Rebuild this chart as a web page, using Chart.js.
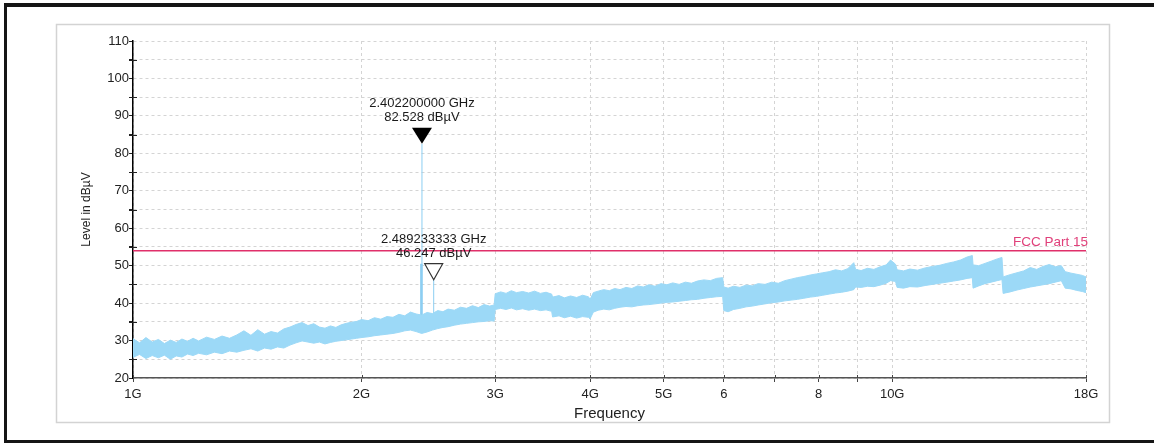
<!DOCTYPE html>
<html>
<head>
<meta charset="utf-8">
<script src="https://cdn.jsdelivr.net/npm/chart.js@4.4.0/dist/chart.umd.min.js"></script>
<style>
html,body{margin:0;padding:0;background:#fff;overflow:hidden;}
#wrap{width:1154px;height:443px;position:relative;}
</style>
</head>
<body>
<div id="wrap"><canvas id="c" width="1154" height="443"></canvas></div>
<script>
// ---- data (frequency in GHz, level in dBµV) ----
const bandFreqGHz = [
  1.00,1.02,1.04,1.06,1.08,1.10,1.12,1.14,1.16,1.18,1.20,1.22,1.25,1.28,1.31,1.34,1.37,1.40,1.43,1.46,1.49,1.52,1.55,1.58,1.61,1.64,1.67,1.70,1.73,1.76,1.79,1.82,1.85,1.88,1.91,1.94,1.97,
  2.00,2.04,2.08,2.12,2.16,2.20,2.24,2.28,2.32,2.36,2.40,2.44,2.48,2.52,2.56,2.60,2.65,2.70,2.75,2.80,2.85,2.90,2.95,2.99,
  3.00,3.05,3.10,3.15,3.20,3.26,3.32,3.38,3.44,3.50,3.56,3.57,3.64,3.70,3.77,3.84,3.91,3.98,4.00,
  4.04,4.10,4.17,4.24,4.31,4.38,4.46,4.54,4.62,4.70,4.78,4.87,4.96,5.05,5.14,5.24,5.34,5.44,5.54,5.65,5.76,5.87,5.98,
  6.00,6.08,6.18,6.30,6.42,6.54,6.66,6.80,6.94,7.08,7.22,7.36,7.50,7.65,7.80,7.95,8.10,8.26,8.42,8.58,8.74,8.90,
  8.95,9.10,9.28,9.46,9.64,9.82,9.95,10.10,
  10.15,10.35,10.55,10.80,11.05,11.30,11.55,11.80,12.05,12.30,12.55,12.75,
  12.78,13.00,13.25,13.50,13.75,13.95,
  14.00,14.30,14.60,14.90,15.20,15.50,15.80,16.10,16.40,16.70,
  16.90,17.20,17.50,17.80,18.00
];
const bandUpper = [
  30.5,29.4,30.8,29.6,30.3,29.2,30.1,29.5,30.4,29.8,30.6,29.9,30.9,30.3,31.2,30.6,31.5,32.6,31.4,32.9,31.7,32.4,32.0,33.1,33.6,34.3,34.8,34.0,34.5,33.6,33.3,33.9,33.5,34.2,34.6,34.9,35.1,
  35.6,35.3,36.1,35.7,36.4,36.2,37.0,36.6,37.6,37.1,36.8,37.5,37.2,38.0,37.7,38.4,38.1,38.9,38.6,39.3,38.8,39.6,39.2,39.5,
  42.5,43.0,42.6,43.3,42.8,43.1,42.7,43.2,42.6,42.9,42.4,41.6,42.0,41.4,41.9,41.5,42.1,41.7,41.0,
  42.8,43.2,43.6,43.3,43.9,43.6,44.2,43.9,44.6,44.3,44.9,44.5,45.2,44.9,45.4,45.0,45.6,45.3,45.9,46.2,46.0,46.6,46.8,
  44.3,44.0,44.5,44.2,44.8,44.6,45.2,45.0,45.6,45.3,46.0,46.4,46.8,47.1,47.5,47.8,48.1,48.4,48.9,48.6,49.2,50.8,
  49.0,48.7,49.3,49.0,49.7,50.2,51.5,50.4,
  48.9,48.6,49.1,48.8,49.4,49.8,50.1,50.6,51.0,51.5,52.3,52.7,
  50.2,50.0,50.6,51.2,51.8,52.2,
  47.0,47.6,48.1,48.6,49.5,49.0,49.8,50.3,49.7,50.0,
  48.4,48.0,47.7,47.4,47.0
];
const bandLower = [
  25.5,26.3,25.2,26.0,25.4,26.1,25.0,25.9,25.6,26.4,26.0,26.6,26.2,26.9,26.5,27.2,26.9,27.4,27.8,27.2,28.0,27.7,28.3,28.0,28.8,29.4,29.9,29.6,29.3,29.6,29.1,29.5,29.8,30.0,30.2,30.4,30.6,
  30.8,31.0,31.3,31.5,31.7,31.9,32.2,32.6,32.8,32.4,31.9,32.3,32.8,33.2,33.5,33.7,34.1,34.4,34.6,34.8,35.0,35.1,35.3,35.2,
  38.3,38.6,38.3,38.7,38.2,38.5,38.1,38.4,38.0,38.2,37.8,36.3,36.6,36.1,36.5,36.0,36.4,36.2,35.8,
  37.6,38.1,38.4,38.2,38.6,38.9,39.1,39.0,39.3,39.5,39.6,39.8,40.0,40.2,40.3,40.5,40.7,40.9,41.0,41.3,41.5,41.7,41.8,
  38.0,37.7,38.3,38.6,39.0,39.2,39.5,39.8,40.1,40.3,40.6,40.8,41.0,41.3,41.6,41.8,42.1,42.4,42.7,42.9,43.2,43.6,
  44.3,44.2,44.5,44.4,44.8,45.3,46.0,45.8,
  44.2,44.0,44.4,44.3,44.7,45.0,45.3,45.6,45.9,46.2,46.6,46.8,
  44.0,44.6,45.2,45.6,46.0,46.3,
  42.6,43.0,43.5,43.9,44.3,44.6,44.9,45.2,45.6,46.0,
  44.0,43.8,43.4,43.1,42.8
];
const spikeFreqGHz = [2.398, 2.4022, 2.489233333];
const spikeBase    = [33.0, 33.5, 35.5];
const spikeTop     = [50.5, 82.528, 46.247];

const markerFreqGHz   = [2.4022, 2.489233333];
const markerLevel     = [82.528, 46.247];
const markerFreqText  = ['2.402200000 GHz', '2.489233333 GHz'];
const markerLevelText = ['82.528 dBµV', '46.247 dBµV'];
const markerFilled    = [true, false];

const limitName  = 'FCC Part 15';
const limitFreqGHz = [1, 18];
const limitLevel = 54;

const xTickValues = [1, 2, 3, 4, 5, 6, 7, 8, 9, 10, 18];
const xTickLabels = ['1G', '2G', '3G', '4G', '5G', '6', '', '8', '', '10G', '18G'];
const yMin = 20, yMax = 110, yStep = 5;

// ---- styles ----
const FONT = "'Liberation Sans', Arial, sans-serif";
const BAND = 'rgb(156,217,247)';
const SPIKE = 'rgb(140,206,242)';
const LIMIT = '#e0306a';
const spikeWidths = [2.5, 1, 1];

const datasets = [
  { label: 'low', data: bandFreqGHz.map((f, i) => ({ x: f, y: bandLower[i] })),
    borderColor: BAND, borderWidth: 1, pointRadius: 0, fill: false, tension: 0 },
  { label: 'high', data: bandFreqGHz.map((f, i) => ({ x: f, y: bandUpper[i] })),
    borderColor: BAND, backgroundColor: BAND, borderWidth: 1, pointRadius: 0, fill: '-1', tension: 0 }
];
spikeFreqGHz.forEach((f, i) => {
  datasets.push({ label: 'spike' + i, data: [{ x: f, y: spikeBase[i] }, { x: f, y: spikeTop[i] }],
    borderColor: SPIKE, borderWidth: spikeWidths[i], pointRadius: 0, fill: false });
});
datasets.push({ label: limitName, data: limitFreqGHz.map(f => ({ x: f, y: limitLevel })),
  borderColor: LIMIT, borderWidth: 1.6, pointRadius: 0, fill: false });

const decor = {
  id: 'decor',
  beforeDraw(chart) {
    const ctx = chart.ctx;
    ctx.save();
    ctx.fillStyle = '#fff';
    ctx.fillRect(0, 0, chart.width, chart.height);
    ctx.fillStyle = '#151515';
    ctx.fillRect(4, 3, 1150, 4);
    ctx.fillRect(4, 3, 3, 440);
    ctx.fillRect(4, 440, 1150, 3);
    ctx.strokeStyle = '#d3d3d3';
    ctx.lineWidth = 1.5;
    ctx.strokeRect(56.5, 24.5, 1053, 398);
    ctx.restore();
  },
  afterDatasetsDraw(chart) {
    const { ctx, scales: { x, y } } = chart;
    ctx.save();
    ctx.strokeStyle = '#222';
    ctx.lineWidth = 1;
    for (let v = yMin + yStep; v < yMax; v += 2 * yStep) {
      const py = Math.round(y.getPixelForValue(v)) + 0.5;
      ctx.beginPath(); ctx.moveTo(x.left - 4, py); ctx.lineTo(x.left + 4, py); ctx.stroke();
    }
    ctx.strokeStyle = '#444';
    xTickValues.forEach(v => {
      const px = Math.round(x.getPixelForValue(v)) + 0.5;
      ctx.beginPath(); ctx.moveTo(px, y.bottom - 3); ctx.lineTo(px, y.bottom); ctx.stroke();
    });
    ctx.fillStyle = '#e0407a';
    ctx.font = '13.5px ' + FONT;
    ctx.textAlign = 'right';
    ctx.textBaseline = 'middle';
    ctx.fillText(limitName, x.right + 2, y.getPixelForValue(limitLevel) - 8);
    markerFreqGHz.forEach((f, i) => {
      const px = x.getPixelForValue(f), py = y.getPixelForValue(markerLevel[i]);
      const hw = markerFilled[i] ? 10 : 9;
      ctx.beginPath();
      ctx.moveTo(px, py);
      ctx.lineTo(px - hw, py - 16);
      ctx.lineTo(px + hw, py - 16);
      ctx.closePath();
      if (markerFilled[i]) { ctx.fillStyle = '#000'; ctx.fill(); }
      else { ctx.fillStyle = '#fff'; ctx.fill(); ctx.strokeStyle = '#333'; ctx.lineWidth = 1.2; ctx.stroke(); }
      ctx.fillStyle = '#1a1a1a';
      ctx.font = '13px ' + FONT;
      ctx.textAlign = 'center';
      ctx.textBaseline = 'middle';
      ctx.fillText(markerFreqText[i], px, py - 40);
      ctx.fillText(markerLevelText[i], px, py - 26);
    });
    ctx.restore();
  }
};

new Chart(document.getElementById('c'), {
  type: 'line',
  data: { datasets },
  plugins: [decor],
  options: {
    responsive: false,
    animation: false,
    events: [],
    layout: { padding: { left: 0, right: 68, top: 41, bottom: 0 } },
    plugins: { legend: { display: false }, tooltip: { enabled: false } },
    elements: { line: { tension: 0 } },
    scales: {
      x: {
        type: 'logarithmic', min: 1, max: 18, position: 'bottom',
        afterBuildTicks: s => { s.ticks = xTickValues.map(v => ({ value: v })); },
        afterFit: s => { s.height = 65; },
        ticks: {
          autoSkip: false, maxRotation: 0, minRotation: 0, padding: 5, color: '#222',
          font: { family: FONT, size: 13 },
          callback: (v, i) => xTickLabels[i]
        },
        grid: { color: '#d4d4d4', lineWidth: 1, tickLength: 4, tickColor: '#444', tickBorderDash: [] },
        border: { display: true, color: '#555', width: 1.5, dash: [3, 3] },
        title: { display: true, text: 'Frequency', color: '#222', font: { family: FONT, size: 15 }, padding: { top: 0, bottom: 20 } }
      },
      y: {
        type: 'linear', min: yMin, max: yMax, position: 'left',
        afterFit: s => { s.width = 133; },
        ticks: {
          stepSize: yStep, autoSkip: false, padding: 0, color: '#222',
          font: { family: FONT, size: 13 },
          callback: v => (v % 10 === 0 ? String(v) : '')
        },
        grid: { color: '#d4d4d4', lineWidth: 1, tickLength: 4, tickColor: '#222', tickBorderDash: [] },
        border: { display: true, color: '#000', width: 1.5, dash: [3, 3] },
        title: { display: true, text: 'Level in dBµV', color: '#222', font: { family: FONT, size: 12 }, padding: { top: 79, bottom: 0 } }
      }
    }
  }
});
</script>
</body>
</html>
